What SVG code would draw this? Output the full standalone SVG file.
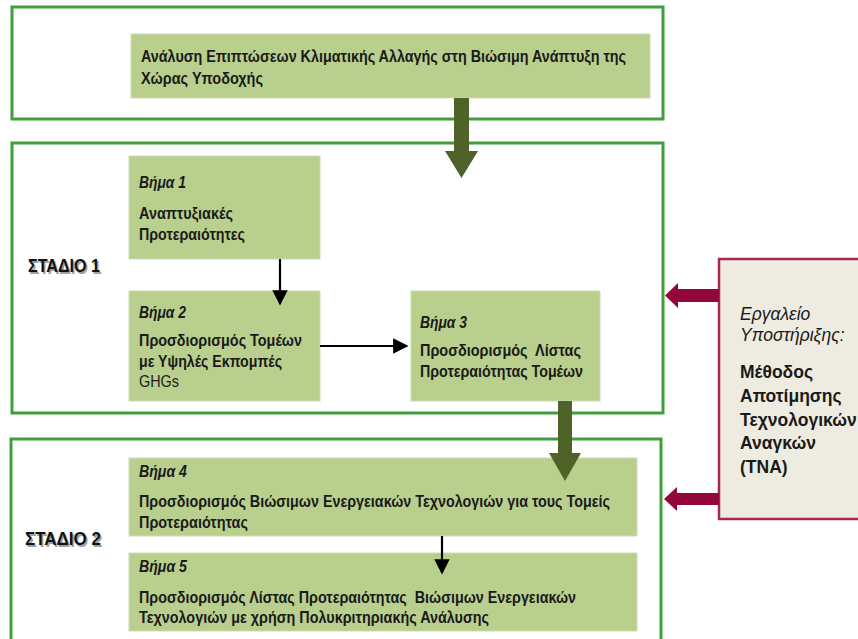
<svg xmlns="http://www.w3.org/2000/svg" width="858" height="639" viewBox="0 0 858 639">
  <defs>
    <style>
      .frame { fill: #ffffff; stroke: #3f9f3a; stroke-width: 3; }
      .step { fill: #b9cf8d; stroke: #cfdcb2; stroke-width: 1; }
      .tool { fill: #eeece1; stroke: #a8284c; stroke-width: 2.5; }
      .t { font-family: "Liberation Sans Narrow", "Arial Narrow", "Liberation Sans", sans-serif; font-size: 16px; fill: #1a1a1a; }
      .b { font-weight: bold; }
      .i { font-style: italic; font-weight: bold; }
      .stage { font-family: "Liberation Sans Narrow", "Arial Narrow", "Liberation Sans", sans-serif; font-size: 19px; font-weight: bold; fill: #111111; }
      .stage-shadow { fill: #a0a0a0; }
      .w { font-family: "Liberation Sans", Arial, sans-serif; font-size: 17.5px; fill: #1a1a1a; }
      .olive { fill: #4f6228; }
      .maroon { fill: #93073a; }
      .thin { stroke: #000000; stroke-width: 2.2; fill: none; }
    </style>
    <marker id="blackHead" viewBox="0 0 10 10" refX="9" refY="5" markerWidth="7" markerHeight="7" orient="auto" markerUnits="strokeWidth">
      <path d="M0,0 L10,5 L0,10 Z" fill="#000000"/>
    </marker>
  </defs>

  <!-- outer frames -->
  <g id="frame-top">
    <rect class="frame" x="12" y="7" width="651" height="112"/>
  </g>
  <g id="frame-stage1">
    <rect class="frame" x="12" y="143" width="651" height="270"/>
    <text class="stage stage-shadow" x="29.5" y="273.5" textLength="72" lengthAdjust="spacingAndGlyphs">ΣΤΑΔΙΟ 1</text>
    <text class="stage" x="28" y="272" textLength="72" lengthAdjust="spacingAndGlyphs">ΣΤΑΔΙΟ 1</text>
  </g>
  <g id="frame-stage2">
    <rect class="frame" x="11" y="439" width="650" height="210"/>
    <text class="stage stage-shadow" x="26.5" y="546.5" textLength="76" lengthAdjust="spacingAndGlyphs">ΣΤΑΔΙΟ 2</text>
    <text class="stage" x="25" y="545" textLength="76" lengthAdjust="spacingAndGlyphs">ΣΤΑΔΙΟ 2</text>
  </g>

  <!-- analysis box -->
  <g id="analysis">
    <rect class="step" x="131" y="34" width="519" height="64"/>
    <text class="t b" x="141" y="62" textLength="485" lengthAdjust="spacingAndGlyphs">Ανάλυση Επιπτώσεων Κλιματικής Αλλαγής στη Βιώσιμη Ανάπτυξη της</text>
    <text class="t b" x="141" y="84" textLength="122" lengthAdjust="spacingAndGlyphs">Χώρας Υποδοχής</text>
  </g>

  <!-- stage 1 steps -->
  <g id="step1">
    <rect class="step" x="129" y="156" width="191" height="103"/>
    <text class="t i" x="139" y="188" textLength="47" lengthAdjust="spacingAndGlyphs">Βήμα 1</text>
    <text class="t b" x="139" y="219" textLength="94" lengthAdjust="spacingAndGlyphs">Αναπτυξιακές</text>
    <text class="t b" x="139" y="240" textLength="106" lengthAdjust="spacingAndGlyphs">Προτεραιότητες</text>
  </g>
  <g id="step2">
    <rect class="step" x="129" y="291" width="191" height="110"/>
    <text class="t i" x="139" y="318" textLength="47" lengthAdjust="spacingAndGlyphs">Βήμα 2</text>
    <text class="t b" x="139" y="346" textLength="163" lengthAdjust="spacingAndGlyphs">Προσδιορισμός Τομέων</text>
    <text class="t b" x="139" y="367" textLength="143" lengthAdjust="spacingAndGlyphs">με Υψηλές Εκπομπές</text>
    <text class="t" x="139" y="387" textLength="40" lengthAdjust="spacingAndGlyphs">GHGs</text>
  </g>
  <g id="step3">
    <rect class="step" x="411" y="291" width="189" height="110"/>
    <text class="t i" x="420" y="328" textLength="47" lengthAdjust="spacingAndGlyphs">Βήμα 3</text>
    <text class="t b" x="420" y="356" textLength="161" lengthAdjust="spacingAndGlyphs" xml:space="preserve">Προσδιορισμός  Λίστας</text>
    <text class="t b" x="420" y="377" textLength="163" lengthAdjust="spacingAndGlyphs">Προτεραιότητας Τομέων</text>
  </g>

  <!-- stage 2 steps -->
  <g id="step4">
    <rect class="step" x="129" y="458" width="508" height="78"/>
    <text class="t i" x="139" y="477" textLength="48" lengthAdjust="spacingAndGlyphs">Βήμα 4</text>
    <text class="t b" x="139" y="507" textLength="471" lengthAdjust="spacingAndGlyphs">Προσδιορισμός Βιώσιμων Ενεργειακών Τεχνολογιών για τους Τομείς</text>
    <text class="t b" x="139" y="528" textLength="109" lengthAdjust="spacingAndGlyphs">Προτεραιότητας</text>
  </g>
  <g id="step5">
    <rect class="step" x="129" y="553" width="508" height="78"/>
    <text class="t i" x="139" y="572" textLength="48" lengthAdjust="spacingAndGlyphs">Βήμα 5</text>
    <text class="t b" x="139" y="603" textLength="437" lengthAdjust="spacingAndGlyphs" xml:space="preserve">Προσδιορισμός Λίστας Προτεραιότητας  Βιώσιμων Ενεργειακών</text>
    <text class="t b" x="139" y="623" textLength="350" lengthAdjust="spacingAndGlyphs">Τεχνολογιών με χρήση Πολυκριτηριακής Ανάλυσης</text>
  </g>

  <!-- support tool -->
  <g id="support-tool">
    <rect class="tool" x="719" y="259" width="150" height="260"/>
    <text class="w" font-style="italic" x="740" y="320">Εργαλείο</text>
    <text class="w" font-style="italic" x="740" y="341">Υποστήριξης:</text>
    <text class="w" font-weight="bold" x="740" y="378">Μέθοδος</text>
    <text class="w" font-weight="bold" x="740" y="402">Αποτίμησης</text>
    <text class="w" font-weight="bold" x="740" y="426">Τεχνολογικών</text>
    <text class="w" font-weight="bold" x="740" y="449">Αναγκών</text>
    <text class="w" font-weight="bold" x="740" y="473">(TNA)</text>
  </g>

  <!-- connectors -->
  <g id="connectors">
    <!-- block arrows between stages -->
    <path class="olive" d="M454,98 H469 V151 H478 L461.5,178 L445,151 H454 Z"/>
    <path class="olive" d="M558,401 H572 V453 H581 L565,481 L549,453 H558 Z"/>
    <!-- tool inputs -->
    <path class="maroon" d="M719,289 V302 H678 V308 L665,295.5 L678,283 V289 Z"/>
    <path class="maroon" d="M719,493 V505 H677 V511 L664,499 L677,487 V493 Z"/>
    <!-- step flow -->
    <line class="thin" x1="280" y1="259" x2="280" y2="304" marker-end="url(#blackHead)"/>
    <line class="thin" x1="320" y1="346" x2="407" y2="346" marker-end="url(#blackHead)"/>
    <line class="thin" x1="442" y1="536" x2="442" y2="573" marker-end="url(#blackHead)"/>
  </g>
</svg>
